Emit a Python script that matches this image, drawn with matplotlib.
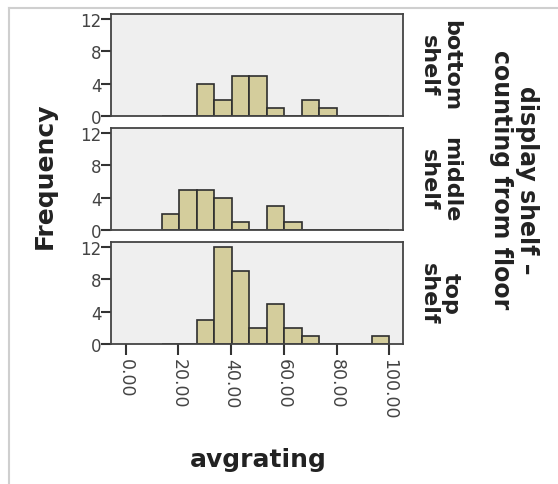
import numpy as np
import matplotlib.pyplot as plt
from matplotlib.lines import Line2D

# histogram bins (avgrating) and counts per display shelf
bin_edges = [13.6, 20.24, 26.88, 33.52, 40.16, 46.8, 53.44, 60.08,
             66.72, 73.36, 80.0, 86.64, 93.28, 99.92]
shelves = ["bottom\nshelf", "middle\nshelf", "top\nshelf"]
bottom_counts = [0, 0, 4, 2, 5, 5, 1, 0, 2, 1, 0, 0, 0]
middle_counts = [2, 5, 5, 4, 1, 0, 3, 1, 0, 0, 0, 0, 0]
top_counts = [0, 0, 3, 12, 9, 2, 5, 2, 1, 0, 0, 0, 1]
x_ticks = [0, 20, 40, 60, 80, 100]
y_ticks = [0, 4, 8, 12]

W, H = 558, 485
fig = plt.figure(figsize=(W / 100, H / 100), dpi=100)

# light frame like the viewer window
fig.add_artist(Line2D([8.5 / W, 8.5 / W], [0, 1 - 9 / H], color="#cfcfcf", lw=1.5))
fig.add_artist(Line2D([8.5 / W, 1], [1 - 9 / H, 1 - 9 / H], color="#cfcfcf", lw=1.5))

left = 111 / W
width = (403 - 111) / W
tops = [15, 129, 243]
ph = 102

edges = np.array(bin_edges)
all_counts = [bottom_counts, middle_counts, top_counts]
axes = []
for i, (lab, counts) in enumerate(zip(shelves, all_counts)):
    ax = fig.add_axes([left, 1 - (tops[i] + ph) / H, width, ph / H])
    ax.set_facecolor("#efefef")
    ax.bar(edges[:-1], counts, width=np.diff(edges), align="edge",
           color="#d4cd9c", edgecolor="#2e2e2e", linewidth=1.2)
    ax.set_xlim(-5.6, 105.2)
    ax.set_ylim(0, 12.6)
    ax.set_yticks(y_ticks)
    ax.set_yticklabels([str(v) for v in y_ticks])
    for s in ax.spines.values():
        s.set_color("#444444")
        s.set_linewidth(1.3)
    ax.tick_params(axis="y", length=7, width=1.5, color="#333333", pad=0,
                   labelsize=12, labelcolor="#444444")
    if i < 2:
        ax.set_xticks([])
    else:
        ax.set_xticks(x_ticks)
        ax.set_xticklabels(["%.2f" % v for v in x_ticks], rotation=270,
                           va="top", ha="center")
        ax.tick_params(axis="x", length=8, width=1.5, color="#333333", pad=2,
                       labelsize=12.5, labelcolor="#444444")
    fig.text(440 / W, 1 - (tops[i] + ph / 2) / H, lab, rotation=270,
             ha="center", va="center", fontsize=16, fontweight="bold",
             color="#222222", linespacing=1.1)
    axes.append(ax)

fig.text(45 / W, 1 - 176 / H, "Frequency", rotation=90, ha="center",
         va="center", fontsize=18, fontweight="bold", color="#222222")
fig.text(258 / W, 1 - 460 / H, "avgrating", ha="center", va="center",
         fontsize=18, fontweight="bold", color="#222222")
fig.text(514 / W, 1 - 180 / H, "display shelf \u2013\ncounting from floor",
         rotation=270, ha="center", va="center", fontsize=17,
         fontweight="bold", color="#222222", linespacing=1.1)

plt.savefig("out.png", dpi=100)
